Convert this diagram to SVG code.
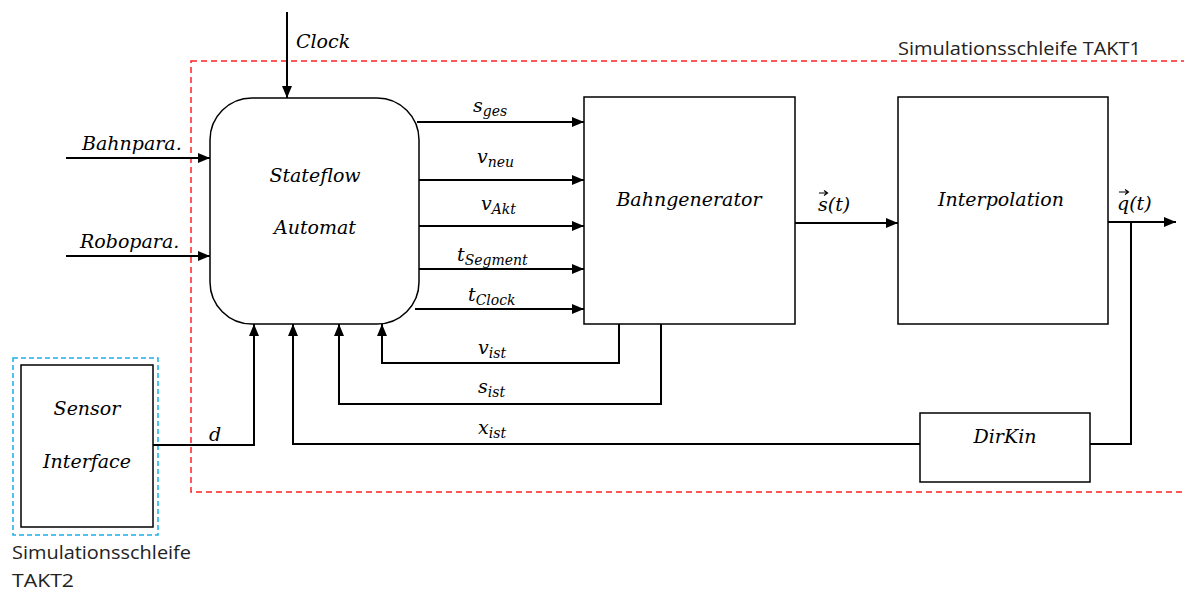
<svg xmlns="http://www.w3.org/2000/svg" width="1184" height="593" viewBox="0 0 1184 593">
<style>
.box{fill:#fff;stroke:#000;stroke-width:1.5}
.ln{fill:none;stroke:#000;stroke-width:2}
.arr{marker-end:url(#ah)}
.vec{fill:none;stroke:#000;stroke-width:1.2}
.m{font-family:"DejaVu Serif","Liberation Serif",serif;font-style:italic;font-size:19px;fill:#000}
.sub{font-size:14px}
.t{font-family:"Open Sans","Liberation Sans",sans-serif;font-size:18px;fill:#222}
</style>
<defs>
<marker id="ah" markerWidth="12" markerHeight="10" refX="12" refY="5" orient="auto" markerUnits="userSpaceOnUse">
<path d="M0,0 L12,5 L0,10 Z" fill="#000"/>
</marker>
</defs>
<rect width="1184" height="593" fill="#fff"/>
<g id="loop1">
<rect x="191" y="61" width="1010" height="431" fill="none" stroke="#f22" stroke-width="1.5" stroke-dasharray="6,4"/>
<text class="t" x="898" y="55" textLength="243" lengthAdjust="spacingAndGlyphs">Simulationsschleife TAKT1</text>
</g>
<g id="loop2">
<rect x="13" y="358" width="145" height="177" fill="none" stroke="#1ab0ea" stroke-width="1.5" stroke-dasharray="5,3"/>
<text class="t" x="12" y="559" textLength="179" lengthAdjust="spacingAndGlyphs">Simulationsschleife</text>
<text class="t" x="12" y="587" textLength="62" lengthAdjust="spacingAndGlyphs">TAKT2</text>
</g>
<g id="connectors">
<path class="ln arr" d="M287,12 V98"/>
<path class="ln arr" d="M66,158 H210"/>
<path class="ln arr" d="M66,256 H210"/>
<path class="ln arr" d="M417,122 H584"/>
<path class="ln arr" d="M419,180 H584"/>
<path class="ln arr" d="M419,226 H584"/>
<path class="ln arr" d="M419,269 H584"/>
<path class="ln arr" d="M415,309 H584"/>
<path class="ln arr" d="M795,223 H898"/>
<path class="ln arr" d="M1108,222 H1176"/>
<path class="ln" d="M1131,222 V444 H1090"/>
<path class="ln arr" d="M920,444 H293 V324"/>
<path class="ln arr" d="M619,324 V363 H382 V324"/>
<path class="ln arr" d="M661,324 V404 H339 V324"/>
<path class="ln arr" d="M153,445 H254 V324"/>
<text class="m" x="296" y="48">Clock</text>
<text class="m" x="82" y="150">Bahnpara.</text>
<text class="m" x="80" y="248">Robopara.</text>
<text class="m" x="473" y="112">s<tspan class="sub" dy="4">ges</tspan></text>
<text class="m" x="477" y="163">v<tspan class="sub" dy="4">neu</tspan></text>
<text class="m" x="481" y="210">v<tspan class="sub" dy="4">Akt</tspan></text>
<text class="m" x="457" y="261">t<tspan class="sub" dy="4">Segment</tspan></text>
<text class="m" x="468" y="301">t<tspan class="sub" dy="4">Clock</tspan></text>
<text class="m" x="478" y="354">v<tspan class="sub" dy="4">ist</tspan></text>
<text class="m" x="478" y="393">s<tspan class="sub" dy="4">ist</tspan></text>
<text class="m" x="478" y="434">x<tspan class="sub" dy="4">ist</tspan></text>
<text class="m" x="209" y="441">d</text>
<text class="m" x="818" y="211">s(t)</text>
<path class="vec" d="M819,193 H827 M824,190.5 L827.5,193 L824,195.5"/>
<text class="m" x="1117" y="210">q(t)</text>
<path class="vec" d="M1119,192 H1128 M1125,189.5 L1128.5,192 L1125,194.5"/>
</g>
<g id="stateflow">
<rect class="box" x="210" y="98" width="209" height="226" rx="42" ry="42"/>
<text class="m" x="315" y="182" text-anchor="middle">Stateflow</text>
<text class="m" x="315" y="234" text-anchor="middle">Automat</text>
</g>
<g id="bahngenerator">
<rect class="box" x="584" y="97" width="211" height="227"/>
<text class="m" x="689" y="206" text-anchor="middle">Bahngenerator</text>
</g>
<g id="interpolation">
<rect class="box" x="898" y="97" width="210" height="227"/>
<text class="m" x="1001" y="206" text-anchor="middle">Interpolation</text>
</g>
<g id="dirkin">
<rect class="box" x="920" y="413" width="170" height="69"/>
<text class="m" x="1005" y="443" text-anchor="middle">DirKin</text>
</g>
<g id="sensor">
<rect class="box" x="21" y="365" width="132" height="162"/>
<text class="m" x="87" y="415" text-anchor="middle">Sensor</text>
<text class="m" x="87" y="468" text-anchor="middle">Interface</text>
</g>
</svg>
